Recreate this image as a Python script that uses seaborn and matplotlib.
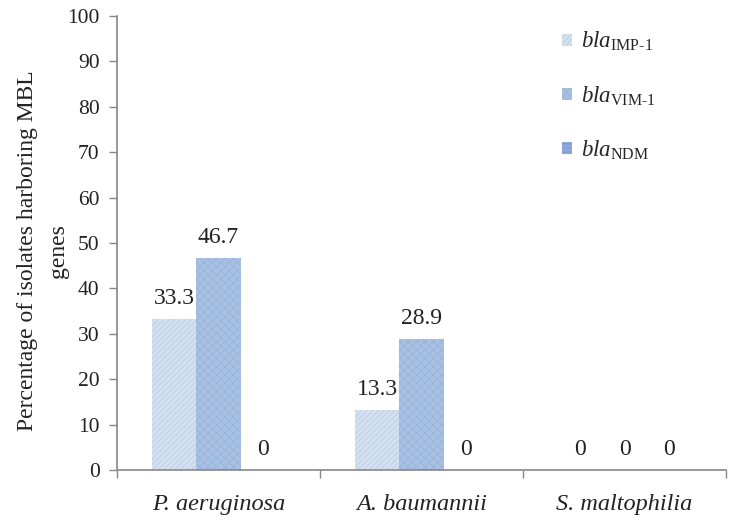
import matplotlib
matplotlib.use("Agg")
import matplotlib.pyplot as plt
import seaborn as sns
import pandas as pd
from matplotlib.patches import Patch

categories = ["P. aeruginosa", "A. baumannii", "S. maltophilia"]
genes = ["IMP-1", "VIM-1", "NDM"]
imp1 = [33.3, 13.3, 0]
vim1 = [46.7, 28.9, 0]
ndm = [0, 0, 0]
yticks = list(range(0, 101, 10))

rows = []
for g, vals in zip(genes, [imp1, vim1, ndm]):
    for c, v in zip(categories, vals):
        rows.append({"organism": c, "gene": g, "value": v})
df = pd.DataFrame(rows)

sns.set_style("white")
plt.rcParams["font.family"] = ["Liberation Serif", "DejaVu Serif"]
plt.rcParams["mathtext.fontset"] = "custom"
plt.rcParams["mathtext.rm"] = "Liberation Serif"
plt.rcParams["mathtext.it"] = "Liberation Serif:italic"
plt.rcParams["hatch.linewidth"] = 0.6

colors = {"IMP-1": "#d3e0f0", "VIM-1": "#a8c0e1", "NDM": "#8eaadb"}
hatches = {"IMP-1": "//////", "VIM-1": "xxxx", "NDM": "----"}
hatch_colors = {"IMP-1": "#bccee6", "VIM-1": "#98b3d9", "NDM": "#7b98cc"}

W, H = 731, 523
x0, x1, ytop, ybot = 117, 726, 16, 470
fig = plt.figure(figsize=(W / 100, H / 100), dpi=100)
ax = fig.add_axes([x0 / W, 1 - ybot / H, (x1 - x0) / W, (ybot - ytop) / H])

sns.barplot(data=df, x="organism", y="value", hue="gene", hue_order=genes,
            palette=colors, width=0.655, ax=ax, legend=False, saturation=1,
            errorbar=None)

for cont, g in zip(ax.containers, genes):
    for p in cont:
        p.set_hatch(hatches[g])
        p.set_edgecolor(hatch_colors[g])
        p.set_linewidth(0)
    ax.bar_label(cont, labels=[f"{v:g}" for v in df[df.gene == g]["value"]],
                 padding=7, fontsize=17, color="#222222")

ax.set_ylim(0, 100)
ax.set_xlim(-0.5, 2.5)
ax.set_yticks(yticks)
ax.set_yticklabels([str(t) for t in yticks], fontsize=15.5, color="#222222")
ax.set_xticks([0, 1, 2])
ax.set_xticklabels(categories, fontsize=17.5, style="italic", color="#222222")
ax.set_xticks([-0.5, 0.5, 1.5, 2.5], minor=True)
ax.tick_params(axis="x", which="major", length=0, pad=17)
ax.tick_params(axis="x", which="minor", length=6, width=1, color="#888888", direction="out", bottom=True)
ax.tick_params(axis="y", length=6, width=1, color="#888888", direction="out", left=True, pad=6.5)
ax.set_xlabel("")
ax.set_ylabel("Percentage of isolates harboring MBL\ngenes", fontsize=17,
              linespacing=1.65, color="#222222")
ax.yaxis.set_label_coords((69 - x0) / (x1 - x0), (ybot - 251) / (ybot - ytop))

for s in ["top", "right"]:
    ax.spines[s].set_visible(False)
for s in ["left", "bottom"]:
    ax.spines[s].set_color("#888888")
    ax.spines[s].set_linewidth(1.2)

handles = [Patch(facecolor=colors[g], edgecolor=hatch_colors[g], hatch=hatches[g], linewidth=0) for g in genes]
labels = [r"$\mathit{bla}_{\mathrm{IMP\text{-}1}}$", r"$\mathit{bla}_{\mathrm{VIM\text{-}1}}$", r"$\mathit{bla}_{\mathrm{NDM}}$"]
fig.legend(handles, labels, loc="upper left", bbox_to_anchor=(562 / W, 1 - 30 / H), frameon=False,
           fontsize=16.5, handlelength=0.45, handleheight=0.45, handletextpad=0.4, labelspacing=1.35,
           borderaxespad=0, borderpad=0)

fig.savefig("out.png", dpi=100)
